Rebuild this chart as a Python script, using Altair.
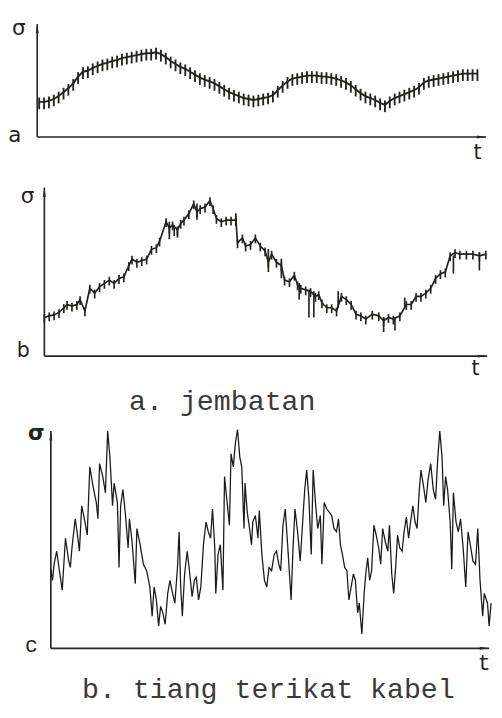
import altair as alt
import pandas as pd

# ---------------- data ----------------
# panel a : bridge signal, regular sawtooth samples (units: px above baseline)
a_t = list(range(2, 457, 5))
a_v = [36, 36, 37, 39, 42, 46, 50, 55, 62, 67,
       68, 71, 73, 75, 76, 78, 79, 81, 82, 83,
       84, 85, 86, 86, 87, 85, 82, 78, 75, 72,
       70, 67, 64, 61, 59, 57, 55, 52, 49, 46,
       44, 42, 40, 39, 38, 39, 40, 41, 43, 48,
       53, 57, 60, 61, 62, 63, 63, 63, 62, 62,
       61, 60, 58, 56, 53, 49, 45, 42, 40, 38,
       35, 33, 37, 40, 42, 44, 46, 48, 51, 56,
       58, 59, 60, 61, 62, 63, 64, 65, 65, 65, 65]

# panel b : bridge signal, irregular
b_t = [0, 15, 30, 45, 60, 70, 85, 100, 110, 125, 140, 155, 170, 185, 200, 215, 230, 245, 260, 270,
       285, 300, 315, 330, 345, 355, 375, 385, 395, 410, 420, 430, 445, 460, 470, 480, 495, 510, 520, 530,
       545, 560, 575, 590, 595, 610, 620, 635, 650, 665, 680, 690, 700, 715, 730, 740, 755, 770, 780, 790,
       805, 820, 835, 845, 855, 870, 885, 900, 915, 930, 945, 960, 975, 990, 1010, 1030, 1045, 1060, 1075, 1095,
       1115, 1130, 1145, 1160, 1175, 1190, 1205, 1220, 1235, 1250, 1265, 1280, 1300, 1320, 1340, 1360]
b_v = [119, 124, 127, 134, 149, 159, 154, 159, 174, 139, 209, 194, 214, 224, 234, 224, 239, 244, 279, 299,
       289, 294, 299, 329, 334, 354, 414, 394, 404, 389, 409, 419, 439, 469, 444, 454, 459, 479, 454, 424,
       414, 419, 419, 419, 349, 364, 339, 344, 364, 339, 324, 289, 314, 289, 279, 234, 229, 249, 219, 209,
       204, 199, 184, 189, 164, 149, 149, 139, 184, 174, 159, 129, 124, 114, 129, 124, 109, 119, 114, 124,
       159, 159, 184, 184, 194, 209, 239, 254, 259, 309, 319, 314, 314, 314, 309, 314]
b_spike_t = [385, 400, 410, 470, 590, 690, 730, 785, 815, 830, 905, 1045, 1080, 1110, 1260, 1340]
b_spike_lo = [360, 370, 365, 420, 400, 259, 240, 174, 119, 119, 150, 74, 79, 150, 254, 264]
b_spike_hi = [414, 404, 395, 470, 440, 330, 300, 225, 205, 200, 200, 120, 120, 180, 310, 320]

# panel c : cable-stayed pylon signal
c_t = [0, 5, 10, 18, 25, 35, 45, 55, 60, 65, 75, 82, 88, 95, 105, 112, 120, 130, 140, 145,
       150, 160, 168, 175, 182, 190, 195, 205, 210, 215, 222, 230, 238, 242, 250, 260, 265, 275, 285, 295,
       305, 312, 318, 325, 332, 338, 345, 352, 360, 367, 375, 382, 390, 395, 400, 405, 412, 420, 428, 435,
       442, 448, 455, 462, 470, 478, 485, 492, 498, 505, 508, 515, 522, 530, 535, 542, 550, 555, 562, 568,
       575, 582, 588, 595, 598, 605, 612, 618, 622, 630, 638, 642, 650, 658, 665, 672, 680, 688, 695, 702,
       708, 715, 722, 730, 740, 746, 752, 760, 768, 775, 782, 788, 795, 802, 808, 815, 822, 830, 835, 842,
       850, 858, 865, 872, 880, 886, 892, 898, 905, 912, 918, 925, 932, 938, 945, 950, 958, 965, 970, 976,
       982, 988, 995, 1002, 1010, 1016, 1022, 1030, 1038, 1043, 1050, 1056, 1062, 1068, 1075, 1082, 1088, 1095, 1102, 1108,
       1115, 1122, 1128, 1135, 1140, 1148, 1155, 1162, 1170, 1178, 1185, 1192, 1198, 1205, 1210, 1216, 1222, 1230, 1235, 1240,
       1248, 1255, 1262, 1270, 1278, 1285, 1292, 1300, 1308, 1315, 1322, 1330, 1335, 1345, 1350, 1356]
c_v = [244, 209, 259, 299, 249, 179, 339, 269, 249, 309, 399, 349, 299, 439, 389, 349, 559, 499, 449, 399,
       569, 529, 479, 669, 589, 439, 509, 449, 249, 439, 489, 409, 309, 399, 329, 199, 369, 319, 259, 239,
       189, 99, 189, 149, 69, 129, 109, 74, 169, 209, 169, 139, 249, 359, 189, 99, 229, 299, 229, 159,
       209, 219, 149, 189, 319, 389, 359, 339, 429, 309, 169, 289, 319, 179, 529, 459, 379, 599, 559, 629,
       674, 589, 559, 369, 509, 419, 369, 319, 389, 409, 339, 424, 289, 209, 189, 249, 239, 289, 299, 259,
       239, 379, 429, 309, 149, 309, 429, 359, 269, 379, 489, 549, 459, 289, 549, 449, 369, 409, 259, 449,
       429, 419, 409, 369, 359, 399, 319, 289, 249, 239, 149, 189, 229, 209, 109, 139, 44, 169, 229, 279,
       209, 239, 379, 349, 309, 259, 369, 329, 299, 379, 229, 169, 249, 349, 309, 299, 359, 404, 339, 389,
       439, 389, 369, 489, 549, 499, 449, 519, 569, 489, 459, 589, 669, 589, 439, 529, 489, 389, 244, 479,
       389, 359, 399, 309, 189, 359, 319, 269, 259, 369, 209, 99, 169, 139, 69, 139]

caption_a = "a. jembatan"
caption_b = "b. tiang terikat kabel"

# ---------------- helpers ----------------
W = 494
INK = "#1f251c"
AXC = "#262626"
UP_ARROW = "M0,0L-0.25,1.6L0.25,1.6Z"
RIGHT_ARROW = "M0,0L-1.6,-0.25L-1.6,0.25Z"


def enc(xdom, ydom):
    x = alt.X("t:Q", scale=alt.Scale(domain=xdom, nice=False, zero=False), axis=None)
    y = alt.Y("v:Q", scale=alt.Scale(domain=ydom, nice=False, zero=False), axis=None)
    return x, y


def axes(xdom, ydom, x_end, y_top):
    x, y = enc(xdom, ydom)
    vline = alt.Chart(pd.DataFrame({"t": [0], "v": [0], "v2": [y_top]})).mark_rule(
        color=AXC, strokeWidth=1.7).encode(x=x, y=y, y2="v2:Q")
    hline = alt.Chart(pd.DataFrame({"t": [0], "t2": [x_end], "v": [0]})).mark_rule(
        color=AXC, strokeWidth=1.7).encode(x=x, x2="t2:Q", y=y)
    up = alt.Chart(pd.DataFrame({"t": [0], "v": [y_top]})).mark_point(
        shape=UP_ARROW, filled=True, size=144, color=AXC, opacity=1).encode(x=x, y=y)
    right = alt.Chart(pd.DataFrame({"t": [x_end], "v": [0]})).mark_point(
        shape=RIGHT_ARROW, filled=True, size=144, color=AXC, opacity=1).encode(x=x, y=y)
    return [vline, hline, up, right]


def label(xdom, ydom, tx, vy, s, font, size, weight="normal", baseline="middle", color="#222222"):
    x, y = enc(xdom, ydom)
    return alt.Chart(pd.DataFrame({"t": [tx], "v": [vy], "s": [s]})).mark_text(
        font=font, fontSize=size, fontWeight=weight, color=color,
        baseline=baseline, align="center").encode(x=x, y=y, text="s:N")


# ---------------- panel a ----------------
A_X, A_Y = [-28, 466], [-30, 120]
xa, ya = enc(A_X, A_Y)
df_a = pd.DataFrame({"t": a_t, "v": a_v})
a_line = alt.Chart(df_a).mark_line(color=INK, strokeWidth=1.9).encode(x=xa, y=ya)
a_ticks = alt.Chart(df_a).mark_tick(orient="vertical", color=INK, size=12, thickness=1.9,
                                    opacity=1, yOffset=1.5).encode(x=xa, y=ya)
panel_a = alt.layer(
    *axes(A_X, A_Y, 461, 116), a_line, a_ticks,
    label(A_X, A_Y, -19, 112, "σ", "DejaVu Sans", 22),
    label(A_X, A_Y, -23, 2, "a", "DejaVu Sans", 22),
    label(A_X, A_Y, 452, -17, "t", "DejaVu Sans", 21),
).properties(width=W, height=150)

# ---------------- panel b ----------------
B_X, B_Y = [-106, 1376], [-186, 585]
xb, yb = enc(B_X, B_Y)
df_b = pd.DataFrame({"t": b_t, "v": b_v})
df_bs = pd.DataFrame({"t": b_spike_t, "v": b_spike_lo, "v2": b_spike_hi})
b_line = alt.Chart(df_b).mark_line(color=INK, strokeWidth=1.7).encode(x=xb, y=yb)
b_ticks = alt.Chart(df_b).mark_tick(orient="vertical", color=INK, size=9, thickness=1.7,
                                    opacity=1, yOffset=1).encode(x=xb, y=yb)
b_spikes = alt.Chart(df_bs).mark_rule(color=INK, strokeWidth=1.7).encode(x=xb, y=yb, y2="v2:Q")
panel_b = alt.layer(
    *axes(B_X, B_Y, 1364, 519), b_line, b_ticks, b_spikes,
    label(B_X, B_Y, -52, 494, "σ", "DejaVu Sans", 22),
    label(B_X, B_Y, -65, 14, "b", "DejaVu Sans", 21),
    label(B_X, B_Y, 1328, -41, "t", "DejaVu Sans", 21),
    label(B_X, B_Y, 548, -165, caption_a, "Liberation Mono", 29, baseline="alphabetic", color="#3a3a3a"),
).properties(width=W, height=257)

# ---------------- panel c ----------------
C_X, C_Y = [-126, 1356], [-171, 714]
xc, yc = enc(C_X, C_Y)
df_c = pd.DataFrame({"t": c_t, "v": c_v})
c_line = alt.Chart(df_c).mark_line(color="#1a1a1a", strokeWidth=1.3).encode(x=xc, y=yc)
panel_c = alt.layer(
    *axes(C_X, C_Y, 1350, 669), c_line,
    label(C_X, C_Y, -45, 663, "σ", "DejaVu Sans", 22, weight="bold"),
    label(C_X, C_Y, -60, 9, "c", "Liberation Mono", 22),
    label(C_X, C_Y, 1335, -45, "t", "Liberation Mono", 22),
    label(C_X, C_Y, 670, -153, caption_b, "Liberation Mono", 29, baseline="alphabetic", color="#3a3a3a"),
).properties(width=W, height=295)

chart = alt.vconcat(panel_a, panel_b, panel_c, spacing=0, bounds="flush").properties(
    padding=0).configure_view(stroke=None)

chart.save("out.html", embed_options={"renderer": "svg", "actions": False})
